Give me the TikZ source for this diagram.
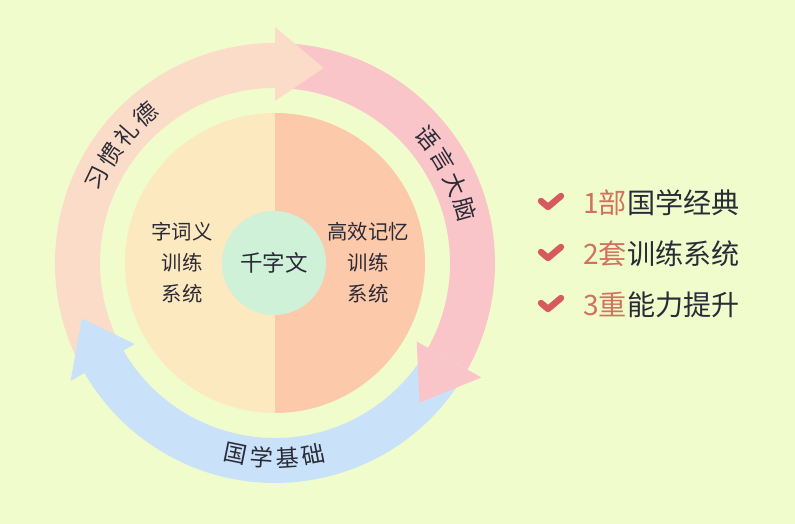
\documentclass[tikz,border=0pt]{standalone}
\usepackage{fontspec}
\newfontfamily\cjk{Noto Sans CJK SC}
\usetikzlibrary{positioning,calc}
\definecolor{bgc}{HTML}{F0FCCC}
\definecolor{peach}{HTML}{FBDCC8}
\definecolor{rose}{HTML}{FAC5C9}
\definecolor{sky}{HTML}{C9E2FA}
\definecolor{halfl}{HTML}{FDE9BF}
\definecolor{halfr}{HTML}{FCC9AA}
\definecolor{mint}{HTML}{CEF1D8}
\definecolor{tickc}{HTML}{D65A5E}
\definecolor{numc}{HTML}{D0725F}
\definecolor{ink}{HTML}{2B2B38}

\begin{document}
\begin{tikzpicture}[x=0.025cm,y=0.025cm,
  ringtxt/.style={font=\cjk\fontsize{16.5}{16.5}\selectfont,text=ink,inner sep=0pt},
  midtxt/.style={font=\cjk\fontsize{14.5}{22}\selectfont,text=ink,align=center,inner sep=0pt},
  listtxt/.style={font=\cjk\fontsize{20}{20}\selectfont,text=ink,anchor=west,inner sep=0pt},
  tickmk/.style={draw=tickc,line width=1.6mm,line cap=round,line join=round}
]
\useasboundingbox (0,0) rectangle (795,524);
\fill[bgc] (0,0) rectangle (795,524);

\begin{scope}[shift={(275,261)}]
% ring bodies
\fill[peach] (206:220) arc[start angle=206,end angle=90,radius=220]
  -- (90:175) arc[start angle=90,end angle=206,radius=175] -- cycle;
\fill[rose] (88:220) arc[start angle=88,end angle=-29,radius=220]
  -- (-29:175) arc[start angle=-29,end angle=88,radius=175] -- cycle;
\fill[sky] (-33:220) arc[start angle=-33,end angle=-150,radius=220]
  -- (-150:175) arc[start angle=-150,end angle=-33,radius=175] -- cycle;

% arrow heads
\fill[peach] (90:162) -- (76:201) -- (90:236) -- cycle;
\fill[rose] (-29:162) -- (-44:201) -- (-29:236) -- cycle;
\fill[sky] (-150:162) -- (-164:201) -- (-150:236) -- cycle;

% inner disc
\fill[halfl] (0,150) arc[start angle=90,end angle=270,radius=150] -- cycle;
\fill[halfr] (0,150) arc[start angle=90,end angle=-90,radius=150] -- cycle;
\node[circle,fill=mint,minimum size=2.6cm,inner sep=0pt,
      font=\cjk\fontsize{16}{16}\selectfont,text=ink] (core) at (-1,0) {千字文};

% ring labels
\foreach \c [count=\i] in {习,惯,礼,德}
  \node[ringtxt,rotate=154.5-7.8*\i+7.8-90] (hab\i) at ({154.5-7.8*(\i-1)}:197) {\c};
\foreach \c [count=\i] in {语,言,大,脑}
  \node[ringtxt,rotate=39.4-7.9*\i+7.9-90] (lang\i) at ({39.4-7.9*(\i-1)}:197) {\c};
\foreach \c [count=\i] in {国,学,基,础}
  \node[ringtxt,rotate=-101.6+7.6*\i-7.6+90] (base\i) at ({-101.6+7.6*(\i-1)}:195) {\c};
\end{scope}

% halves text
\node[midtxt] (word) at (182,261) {字词义\\训练\\系统};
\node[midtxt] (memo) at (368,261) {高效记忆\\训练\\系统};

% list on the right
\foreach \n/\u/\t [count=\i] in {1/部/国学经典,2/套/训练系统,3/重/能力提升} {
  \coordinate (k\i) at (551,{372-51*\i});
  \draw[tickmk] ($(k\i)+(-10,2)$) -- ($(k\i)+(-3,-4)$) -- ($(k\i)+(10,7)$);
  \node[listtxt] (item\i) at (583,{372-51*\i}) {\textcolor{numc}{\n\u}\t};
}
\end{tikzpicture}
\end{document}
